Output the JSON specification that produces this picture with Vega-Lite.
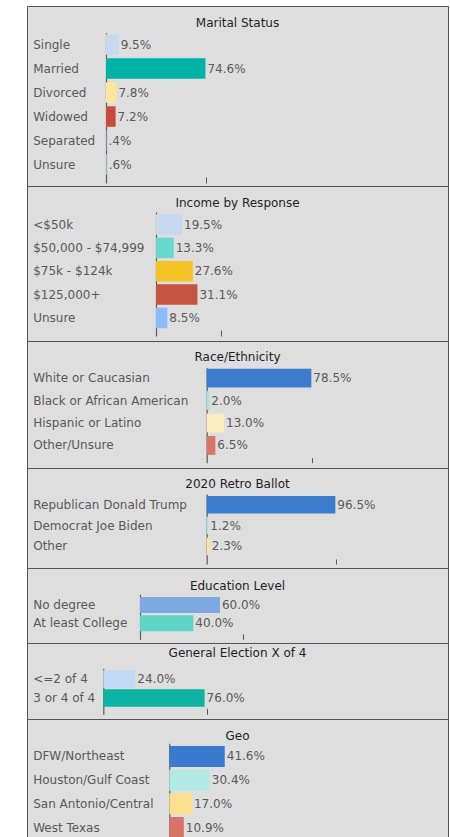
{
  "$schema": "https://vega.github.io/schema/vega-lite/v6.json",
  "background": "white",
  "padding": {"left": 26, "top": 5, "right": 3, "bottom": 0},
  "spacing": 0,
  "bounds": "flush",
  "resolve": {"scale": {"x": "independent", "y": "independent", "color": "independent"}},
  "config": {
    "font": "DejaVu Sans",
    "view": {"fill": "#dedede", "stroke": "#555555", "strokeWidth": 1},
    "axis": {"grid": false, "title": null, "labelFont": "DejaVu Sans", "labelFontSize": 12, "labelColor": "#595959", "domainColor": "#595959", "tickColor": "#595959"},
    "axisY": {"ticks": false, "tickSize": 0, "labelAlign": "left", "labelBaseline": "middle", "labelLimit": 300, "domainWidth": 1.2},
    "axisX": {"labels": false, "domain": false, "ticks": true},
    "title": {"font": "DejaVu Sans", "fontSize": 12, "fontWeight": "normal", "color": "#1f1f1f", "anchor": "middle", "frame": "group", "baseline": "middle"},
    "text": {"font": "DejaVu Sans", "fontSize": 12, "color": "#595959"}
  },
  "datasets": {
    "marital": [
      {"cat": "Single", "value": 9.5, "label": "9.5%"},
      {"cat": "Married", "value": 74.6, "label": "74.6%"},
      {"cat": "Divorced", "value": 7.8, "label": "7.8%"},
      {"cat": "Widowed", "value": 7.2, "label": "7.2%"},
      {"cat": "Separated", "value": 0.4, "label": ".4%"},
      {"cat": "Unsure", "value": 0.6, "label": ".6%"}
    ],
    "income": [
      {"cat": "<$50k", "value": 19.5, "label": "19.5%"},
      {"cat": "$50,000 - $74,999", "value": 13.3, "label": "13.3%"},
      {"cat": "$75k - $124k", "value": 27.6, "label": "27.6%"},
      {"cat": "$125,000+", "value": 31.1, "label": "31.1%"},
      {"cat": "Unsure", "value": 8.5, "label": "8.5%"}
    ],
    "race": [
      {"cat": "White or Caucasian", "value": 78.5, "label": "78.5%"},
      {"cat": "Black or African American", "value": 2.0, "label": "2.0%"},
      {"cat": "Hispanic or Latino", "value": 13.0, "label": "13.0%"},
      {"cat": "Other/Unsure", "value": 6.5, "label": "6.5%"}
    ],
    "retro": [
      {"cat": "Republican Donald Trump", "value": 96.5, "label": "96.5%"},
      {"cat": "Democrat Joe Biden", "value": 1.2, "label": "1.2%"},
      {"cat": "Other", "value": 2.3, "label": "2.3%"}
    ],
    "education": [
      {"cat": "No degree", "value": 60.0, "label": "60.0%"},
      {"cat": "At least College", "value": 40.0, "label": "40.0%"}
    ],
    "general": [
      {"cat": "<=2 of 4", "value": 24.0, "label": "24.0%"},
      {"cat": "3 or 4 of 4", "value": 76.0, "label": "76.0%"}
    ],
    "geo": [
      {"cat": "DFW/Northeast", "value": 41.6, "label": "41.6%"},
      {"cat": "Houston/Gulf Coast", "value": 30.4, "label": "30.4%"},
      {"cat": "San Antonio/Central", "value": 17.0, "label": "17.0%"},
      {"cat": "West Texas", "value": 10.9, "label": "10.9%"}
    ]
  },
  "vconcat": [
    {
      "width": 421, "height": 180,
      "title": {"text": "Marital Status", "offset": -24.3},
      "data": {"name": "marital"},
      "encoding": {
        "y": {"field": "cat", "type": "nominal", "sort": null,
              "scale": {"range": [26.7, 177], "paddingInner": 0.146, "paddingOuter": 0.204, "align": 0.163},
              "axis": {"offset": -79, "labelPadding": 73.3}},
        "x": {"field": "value", "type": "quantitative",
              "scale": {"domain": [0, 100], "range": [79, 212.3]},
              "axis": {"values": [75], "offset": -9, "tickSize": 6}}
      },
      "layer": [
        {"mark": {"type": "bar"},
         "encoding": {"color": {"field": "cat", "type": "nominal", "legend": null,
           "scale": {"domain": ["Single", "Married", "Divorced", "Widowed", "Separated", "Unsure"],
                     "range": ["#c6d9f1", "#00b2a8", "#ffe699", "#c84b3c", "#8fb8f0", "#9fd9d3"]}}}},
        {"mark": {"type": "text", "align": "left", "baseline": "middle", "dx": 2},
         "encoding": {"text": {"field": "label", "type": "nominal"}}}
      ]
    },
    {
      "width": 421, "height": 155,
      "title": {"text": "Income by Response", "offset": -24.3},
      "data": {"name": "income"},
      "encoding": {
        "y": {"field": "cat", "type": "nominal", "sort": null,
              "scale": {"range": [26, 150], "paddingInner": 0.122, "paddingOuter": 0.216, "align": 0.228},
              "axis": {"offset": -129, "labelPadding": 123.3}},
        "x": {"field": "value", "type": "quantitative",
              "scale": {"domain": [0, 100], "range": [129, 262.3]},
              "axis": {"values": [49], "offset": -11, "tickSize": 6}}
      },
      "layer": [
        {"mark": {"type": "bar"},
         "encoding": {"color": {"field": "cat", "type": "nominal", "legend": null,
           "scale": {"domain": ["<$50k", "$50,000 - $74,999", "$75k - $124k", "$125,000+", "Unsure"],
                     "range": ["#c6d9f1", "#66d9cc", "#f5c224", "#c65242", "#8bbcff"]}}}},
        {"mark": {"type": "text", "align": "left", "baseline": "middle", "dx": 2},
         "encoding": {"text": {"field": "label", "type": "nominal"}}}
      ]
    },
    {
      "width": 421, "height": 127,
      "title": {"text": "Race/Ethnicity", "offset": -23},
      "data": {"name": "race"},
      "encoding": {
        "y": {"field": "cat", "type": "nominal", "sort": null,
              "scale": {"range": [26.7, 121.7], "paddingInner": 0.16, "paddingOuter": 0.198, "align": 0.11},
              "axis": {"offset": -179.7, "labelPadding": 174}},
        "x": {"field": "value", "type": "quantitative",
              "scale": {"domain": [0, 100], "range": [179.7, 313]},
              "axis": {"values": [79], "offset": -10.3, "tickSize": 5}}
      },
      "layer": [
        {"mark": {"type": "bar"},
         "encoding": {"color": {"field": "cat", "type": "nominal", "legend": null,
           "scale": {"domain": ["White or Caucasian", "Black or African American", "Hispanic or Latino", "Other/Unsure"],
                     "range": ["#3c7ccc", "#a8e4e0", "#fdecc0", "#d9746b"]}}}},
        {"mark": {"type": "text", "align": "left", "baseline": "middle", "dx": 2},
         "encoding": {"text": {"field": "label", "type": "nominal"}}}
      ]
    },
    {
      "width": 421, "height": 100,
      "title": {"text": "2020 Retro Ballot", "offset": -23.3},
      "data": {"name": "retro"},
      "encoding": {
        "y": {"field": "cat", "type": "nominal", "sort": null,
              "scale": {"range": [26, 96], "paddingInner": 0.16, "paddingOuter": 0.259, "align": 0.185},
              "axis": {"offset": -179.7, "labelPadding": 174}},
        "x": {"field": "value", "type": "quantitative",
              "scale": {"domain": [0, 100], "range": [179.7, 313]},
              "axis": {"values": [97], "offset": -9, "tickSize": 5}}
      },
      "layer": [
        {"mark": {"type": "bar"},
         "encoding": {"color": {"field": "cat", "type": "nominal", "legend": null,
           "scale": {"domain": ["Republican Donald Trump", "Democrat Joe Biden", "Other"],
                     "range": ["#3c7ccc", "#a8e4e0", "#fde39a"]}}}},
        {"mark": {"type": "text", "align": "left", "baseline": "middle", "dx": 2},
         "encoding": {"text": {"field": "label", "type": "nominal"}}}
      ]
    },
    {
      "width": 421, "height": 75,
      "title": {"text": "Education Level", "offset": -25},
      "data": {"name": "education"},
      "encoding": {
        "y": {"field": "cat", "type": "nominal", "sort": null,
              "scale": {"range": [26.3, 71.3], "paddingInner": 0.126, "paddingOuter": 0.29, "align": 0.25},
              "axis": {"offset": -113, "labelPadding": 107.3}},
        "x": {"field": "value", "type": "quantitative",
              "scale": {"domain": [0, 100], "range": [113, 246.3]},
              "axis": {"values": [77], "offset": -9.3, "tickSize": 5.6}}
      },
      "layer": [
        {"mark": {"type": "bar"},
         "encoding": {"color": {"field": "cat", "type": "nominal", "legend": null,
           "scale": {"domain": ["No degree", "At least College"],
                     "range": ["#7ea8e0", "#5fd5c9"]}}}},
        {"mark": {"type": "text", "align": "left", "baseline": "middle", "dx": 2},
         "encoding": {"text": {"field": "label", "type": "nominal"}}}
      ]
    },
    {
      "width": 421, "height": 76,
      "title": {"text": "General Election X of 4", "offset": -16.7},
      "data": {"name": "general"},
      "encoding": {
        "y": {"field": "cat", "type": "nominal", "sort": null,
              "scale": {"range": [25.3, 71.3], "paddingInner": 0.084, "paddingOuter": 0.2525, "align": 0.21},
              "axis": {"offset": -76.3, "labelPadding": 70.6}},
        "x": {"field": "value", "type": "quantitative",
              "scale": {"domain": [0, 100], "range": [76.3, 209.6]},
              "axis": {"values": [78], "offset": -10.7, "tickSize": 6}}
      },
      "layer": [
        {"mark": {"type": "bar"},
         "encoding": {"color": {"field": "cat", "type": "nominal", "legend": null,
           "scale": {"domain": ["<=2 of 4", "3 or 4 of 4"],
                     "range": ["#c3d8f2", "#0db3a5"]}}}},
        {"mark": {"type": "text", "align": "left", "baseline": "middle", "dx": 2},
         "encoding": {"text": {"field": "label", "type": "nominal"}}}
      ]
    },
    {
      "width": 421, "height": 119,
      "title": {"text": "Geo", "offset": -24},
      "data": {"name": "geo"},
      "encoding": {
        "y": {"field": "cat", "type": "nominal", "sort": null,
              "scale": {"range": [24.3, 119], "paddingInner": 0.113, "paddingOuter": 0.057, "align": 1},
              "axis": {"offset": -142.3, "labelPadding": 136.6}},
        "x": {"field": "value", "type": "quantitative",
              "scale": {"domain": [0, 100], "range": [142.3, 275.6]},
              "axis": null}
      },
      "layer": [
        {"mark": {"type": "bar"},
         "encoding": {"color": {"field": "cat", "type": "nominal", "legend": null,
           "scale": {"domain": ["DFW/Northeast", "Houston/Gulf Coast", "San Antonio/Central", "West Texas"],
                     "range": ["#3b7bcd", "#b3e8e4", "#fbdf8b", "#d8736a"]}}}},
        {"mark": {"type": "text", "align": "left", "baseline": "middle", "dx": 2},
         "encoding": {"text": {"field": "label", "type": "nominal"}}}
      ]
    }
  ]
}
